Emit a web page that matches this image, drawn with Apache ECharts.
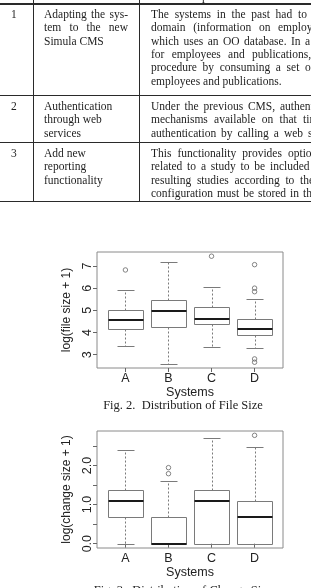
<!DOCTYPE html>
<html>
<head>
<meta charset="utf-8">
<script src="https://cdn.jsdelivr.net/npm/echarts@6/dist/echarts.min.js"></script>
<style>
html,body{margin:0;padding:0;background:#fff;overflow:hidden;}
#page{position:relative;width:311px;height:588px;overflow:hidden;background:#fff;}
#chart{position:absolute;left:0;top:0;width:311px;height:588px;}
#table{position:absolute;left:0;top:0;width:311px;height:215px;overflow:hidden;z-index:2;
  font-family:"Liberation Serif","DejaVu Serif",serif;font-size:11.5px;color:#1e1e1e;}
.ln{position:absolute;white-space:nowrap;line-height:13.3px;height:13.3px;}
.just{display:flex;justify-content:space-between;}
.just span{flex:none;white-space:nowrap;}
.just span.open{width:0;min-width:0;overflow:visible;}
.hr{position:absolute;left:0;width:311px;background:#2a2a2a;}
.vr{position:absolute;top:0;width:1px;background:#2a2a2a;}
</style>
</head>
<body>
<div id="page">
  <div id="chart"></div>
  <div id="table"></div>
</div>
<script>
// ---------- table text ----------
const headerText = ['Description'];
const rowNumbers = ['1', '2', '3'];
const changeTitles = [
  ['Adapting the sys-', 'tem to the new', 'Simula CMS'],
  ['Authentication', 'through web', 'services'],
  ['Add new', 'reporting', 'functionality']
];
const descriptions = [
  ['The systems in the past had to',
   'domain (information on employees',
   'which uses an OO database. In a',
   'for employees and publications,',
   'procedure by consuming a set of',
   'employees and publications.'],
  ['Under the previous CMS, authentication',
   'mechanisms available on that time',
   'authentication by calling a web service'],
  ['This functionality provides options',
   'related to a study to be included',
   'resulting studies according to the',
   'configuration must be stored in the']
];

// ---------- chart data ----------
const categories = ['A', 'B', 'C', 'D'];
const fileMin    = [3.37, 2.59, 3.34, 3.28];
const fileQ1     = [4.14, 4.27, 4.38, 3.90];
const fileMedian = [4.56, 4.99, 4.59, 4.14];
const fileQ3     = [5.03, 5.47, 5.16, 4.60];
const fileMax    = [5.92, 7.18, 6.04, 5.53];
const fileOutliers = [[6.82], [], [7.44], [7.06, 6.00, 5.84, 2.81, 2.66]];

const changeMin    = [0, 0, 0, 0];
const changeQ1     = [0.693, 0, 0, 0];
const changeMedian = [1.099, 0, 1.099, 0.693];
const changeQ3     = [1.386, 0.693, 1.386, 1.099];
const changeMax    = [2.398, 1.609, 2.708, 2.485];
const changeOutliers = [[], [1.792, 1.946], [], [2.773]];

const fileTicks = [3, 4, 5, 6, 7];
const changeTicks = [0, 0.5, 1, 1.5, 2, 2.5];
const changeTickLabels = [0, 1, 2];
const xTicks = [1, 2, 3, 4];

// ---------- table layout ----------
(function buildTable() {
  const t = document.getElementById('table');
  const sepY = [3, 95, 142, 201];
  const lineH = 13.3, firstOff = 11.7;
  const col1X = 11, col2X = 44, col3X = 151;
  const col2Justify = [[128, 128, null], [null, null, null], [null, null, null]];
  const col3LastStart = [[298, 278, 305, 252, 305, null], [280, 303, 308], [288, 270, 300, 303]];
  function el(cls, css, html) {
    const d = document.createElement('div');
    d.className = cls; d.style.cssText = css; if (html !== undefined) d.innerHTML = html;
    t.appendChild(d); return d;
  }
  function words(text, openLast) {
    const w = text.split(' ');
    return w.map((s, i) => '<span' + (openLast && i === w.length - 1 ? ' class="open"' : '') + '>' + s + '</span>').join('');
  }
  el('ln', 'left:172px;top:-10.5px;', headerText[0]);
  el('hr', 'top:' + sepY[0] + 'px;height:2px;');
  for (let i = 1; i < sepY.length; i++) el('hr', 'top:' + sepY[i] + 'px;height:1px;');
  el('vr', 'left:33px;height:' + (sepY[3] + 1) + 'px;');
  el('vr', 'left:139px;height:' + (sepY[3] + 1) + 'px;');
  for (let r = 0; r < 3; r++) {
    const y0 = sepY[r] + firstOff;
    el('ln', 'left:' + col1X + 'px;top:' + (y0 - lineH / 2) + 'px;', rowNumbers[r]);
    changeTitles[r].forEach((s, k) => {
      const top = y0 + k * lineH - lineH / 2;
      const j = col2Justify[r][k];
      if (j) el('ln just', 'left:' + col2X + 'px;top:' + top + 'px;width:' + (j - col2X) + 'px;', words(s, false));
      else el('ln', 'left:' + col2X + 'px;top:' + top + 'px;', s);
    });
    descriptions[r].forEach((s, k) => {
      const top = y0 + k * lineH - lineH / 2;
      const j = col3LastStart[r][k];
      if (j) el('ln just', 'left:' + col3X + 'px;top:' + top + 'px;width:' + (j - col3X) + 'px;', words(s, true));
      else el('ln', 'left:' + col3X + 'px;top:' + top + 'px;', s);
    });
  }
})();

// ---------- chart ----------
const sansFont = '"Liberation Sans", Arial, sans-serif';
const serifFont = '"Liberation Serif", "Times New Roman", serif';
const textColor = '#222';
const boxColor = '#7a7a7a';

function boxData(mn, q1, md, q3, mx) {
  return categories.map((c, i) => [i + 1, mn[i], q1[i], md[i], q3[i], mx[i]]);
}
function outlierData(list) {
  const out = [];
  list.forEach((vals, i) => vals.forEach(v => out.push([i + 1, v])));
  return out;
}
function renderBox(params, api) {
  const x = api.value(0);
  const pMin = api.coord([x, api.value(1)]);
  const pQ1 = api.coord([x, api.value(2)]);
  const pMed = api.coord([x, api.value(3)]);
  const pQ3 = api.coord([x, api.value(4)]);
  const pMax = api.coord([x, api.value(5)]);
  const bw = api.size([0.8, 0])[0];
  const r = v => Math.round(v) + 0.5;
  const cx = r(pMed[0]);
  const L = r(pMed[0] - bw / 2), R = r(pMed[0] + bw / 2);
  const sL = r(pMed[0] - bw / 4), sR = r(pMed[0] + bw / 4);
  const top = r(pQ3[1]), bot = r(pQ1[1]);
  const yMax = r(pMax[1]), yMin = r(pMin[1]);
  const yMed = Math.round(pMed[1]);
  const solid = { stroke: boxColor, lineWidth: 1 };
  const dashed = { stroke: boxColor, lineWidth: 1, lineDash: [2, 2] };
  return {
    type: 'group',
    children: [
      { type: 'line', shape: { x1: cx, y1: top, x2: cx, y2: yMax }, style: dashed },
      { type: 'line', shape: { x1: cx, y1: bot, x2: cx, y2: yMin }, style: dashed },
      { type: 'line', shape: { x1: sL, y1: yMax, x2: sR, y2: yMax }, style: solid },
      { type: 'line', shape: { x1: sL, y1: yMin, x2: sR, y2: yMin }, style: solid },
      { type: 'rect', shape: { x: L, y: top, width: R - L, height: bot - top }, style: { fill: 'none', stroke: boxColor, lineWidth: 1 } },
      { type: 'line', shape: { x1: L, y1: yMed, x2: R, y2: yMed }, style: { stroke: '#1a1a1a', lineWidth: 2 } }
    ]
  };
}

function xAxisCfg(gridIndex) {
  return {
    type: 'value', gridIndex, min: 0.34, max: 4.66,
    axisLine: { show: false }, splitLine: { show: false },
    axisTick: { customValues: xTicks, length: 4, lineStyle: { color: '#666' } },
    axisLabel: { customValues: xTicks, formatter: v => categories[Math.round(v) - 1], margin: 4,
      color: textColor, fontSize: 12.5, fontFamily: sansFont },
    name: 'Systems', nameLocation: 'middle', nameGap: 18,
    nameTextStyle: { color: textColor, fontSize: 12.5, fontFamily: sansFont }
  };
}
function yAxisCfg(gridIndex, min, max, ticks, labels, name, fmt) {
  return {
    type: 'value', gridIndex, min, max,
    axisLine: { show: false }, splitLine: { show: false },
    axisTick: { customValues: ticks, length: 4, lineStyle: { color: '#666' } },
    axisLabel: { customValues: labels, rotate: 90, margin: 3, formatter: fmt,
      color: textColor, fontSize: 12.5, fontFamily: sansFont },
    name, nameLocation: 'middle', nameRotate: 90, nameGap: 18,
    nameTextStyle: { color: textColor, fontSize: 12, fontFamily: sansFont }
  };
}
const outlierStyle = { color: 'rgba(0,0,0,0)', borderColor: '#666', borderWidth: 1 };

const chart = echarts.init(document.getElementById('chart'), null, { renderer: 'canvas' });
chart.setOption({
  backgroundColor: '#fff',
  animation: false,
  grid: [
    { left: 97, top: 252, width: 186, height: 116, show: true, borderColor: '#8a8a8a', borderWidth: 1, backgroundColor: 'transparent' },
    { left: 97, top: 431, width: 186, height: 117, show: true, borderColor: '#8a8a8a', borderWidth: 1, backgroundColor: 'transparent' }
  ],
  xAxis: [xAxisCfg(0), xAxisCfg(1)],
  yAxis: [
    yAxisCfg(0, 2.40, 7.63, fileTicks, fileTicks, 'log(file size + 1)', v => String(v)),
    yAxisCfg(1, -0.111, 2.884, changeTicks, changeTickLabels, 'log(change size + 1)', v => v.toFixed(1))
  ],
  graphic: [
    { type: 'text', x: 183, y: 406, style: { text: 'Fig. 2.  Distribution of File Size', fill: textColor,
      font: '12.5px ' + serifFont, textAlign: 'center', textVerticalAlign: 'middle' } },
    { type: 'text', x: 183, y: 591, style: { text: 'Fig. 3.  Distribution of Change Size', fill: textColor,
      font: '12.5px ' + serifFont, textAlign: 'center', textVerticalAlign: 'middle' } }
  ],
  series: [
    { type: 'custom', xAxisIndex: 0, yAxisIndex: 0, renderItem: renderBox,
      encode: { x: 0, y: [1, 2, 3, 4, 5] }, data: boxData(fileMin, fileQ1, fileMedian, fileQ3, fileMax), clip: false },
    { type: 'scatter', xAxisIndex: 0, yAxisIndex: 0, symbol: 'circle', symbolSize: 4.5,
      itemStyle: outlierStyle, data: outlierData(fileOutliers) },
    { type: 'custom', xAxisIndex: 1, yAxisIndex: 1, renderItem: renderBox,
      encode: { x: 0, y: [1, 2, 3, 4, 5] }, data: boxData(changeMin, changeQ1, changeMedian, changeQ3, changeMax), clip: false },
    { type: 'scatter', xAxisIndex: 1, yAxisIndex: 1, symbol: 'circle', symbolSize: 4.5,
      itemStyle: outlierStyle, data: outlierData(changeOutliers) }
  ]
});
</script>
</body>
</html>
